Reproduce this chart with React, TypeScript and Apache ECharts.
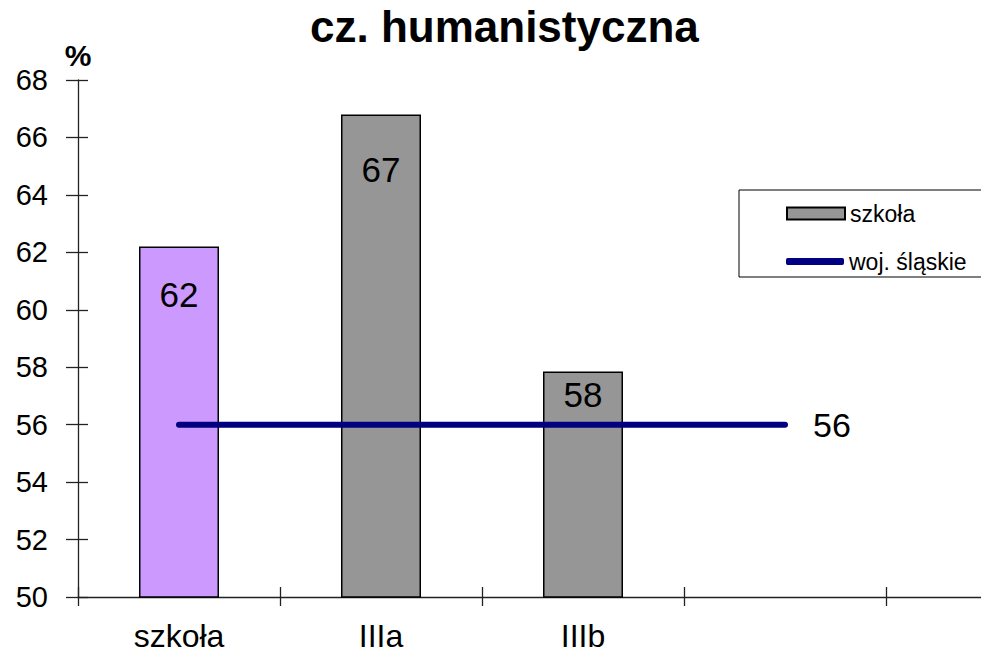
import React, { useEffect, useRef } from "react";
import * as echarts from "echarts";

const categories = ["szkoła", "IIIa", "IIIb", "", ""];
const schoolValues = [62.2, 66.8, 57.85];
const schoolLabels = ["62", "67", "58"];
const regionValues = [56, 56, 56, 56];
const regionLabel = "56";
const labelDistances = [30, 38, 5];
const yTicks = { min: 50, max: 68, interval: 2 };

const FONT = "'Liberation Sans', Arial, sans-serif";

export default function App() {
  const ref = useRef<HTMLDivElement>(null);
  useEffect(() => {
    if (!ref.current) return;
    const chart = echarts.init(ref.current, undefined, { renderer: "svg" });
    const barData = schoolValues.map((v, i) => ({
      value: v,
      itemStyle: i === 0 ? { color: "#CC99FF" } : undefined,
      label: {
        show: true,
        position: "insideTop",
        distance: labelDistances[i],
        formatter: () => schoolLabels[i],
        fontSize: 35,
        color: "#000",
        fontFamily: FONT,
      },
    }));
    const axisColor = "#222";
    chart.setOption({
      animation: false,
      textStyle: { fontFamily: FONT },
      title: {
        text: "cz. humanistyczna",
        left: 310,
        top: 4,
        padding: 0,
        textStyle: { fontSize: 44, fontWeight: "bold", color: "#000", fontFamily: FONT },
      },
      legend: [
        {
          orient: "vertical",
          left: 739,
          top: 190,
          padding: [12, 80, 52, 47],
          itemWidth: 58,
          itemHeight: 12,
          borderColor: "#000",
          borderWidth: 1,
          backgroundColor: "#fff",
          textStyle: { fontSize: 23, color: "#000", fontFamily: FONT },
          data: [{ name: "szkoła", icon: "rect" }],
          z: 4,
        },
        {
          orient: "vertical",
          left: 786,
          top: 250,
          padding: 0,
          itemWidth: 58,
          itemHeight: 7,
          textStyle: { fontSize: 23, color: "#000", fontFamily: FONT },
          data: [{ name: "woj. śląskie", icon: "roundRect", itemStyle: { color: "#000080" } }],
          z: 6,
        },
      ],
      grid: { left: 78, right: 2, top: 80, bottom: 50 },
      xAxis: [
        {
          type: "category",
          data: categories,
          boundaryGap: true,
          axisLine: { lineStyle: { color: axisColor, width: 1.3 } },
          axisTick: { show: true, length: 9, lineStyle: { color: axisColor, width: 1.3 } },
          axisLabel: { fontSize: 32, color: "#000", margin: 23, fontFamily: FONT },
          splitLine: { show: false },
        },
        {
          type: "category",
          data: categories,
          position: "bottom",
          boundaryGap: true,
          axisLine: { show: false },
          axisTick: { show: true, inside: true, length: 10, lineStyle: { color: axisColor, width: 1.3 } },
          axisLabel: { show: false },
          splitLine: { show: false },
        },
      ],
      yAxis: [
        {
          type: "value",
          min: yTicks.min,
          max: yTicks.max,
          interval: yTicks.interval,
          name: "%",
          nameLocation: "end",
          nameGap: 10,
          nameTextStyle: { fontSize: 30, fontWeight: "bold", color: "#000", fontFamily: FONT, align: "center" },
          axisLine: { show: true, lineStyle: { color: axisColor, width: 1.3 } },
          axisTick: { show: true, length: 12, lineStyle: { color: axisColor, width: 1.3 } },
          axisLabel: { fontSize: 29, color: "#000", margin: 30, fontFamily: FONT },
          splitLine: { show: false },
        },
        {
          type: "value",
          min: yTicks.min,
          max: yTicks.max,
          interval: yTicks.interval,
          position: "left",
          axisLine: { show: false },
          axisTick: { show: true, inside: true, length: 10, lineStyle: { color: axisColor, width: 1.3 } },
          axisLabel: { show: false },
          splitLine: { show: false },
        },
      ],
      series: [
        {
          name: "szkoła",
          type: "bar",
          barWidth: 80,
          data: barData,
          itemStyle: { color: "#969696", borderColor: "#000", borderWidth: 1.5 },
        },
        {
          name: "woj. śląskie",
          type: "line",
          data: regionValues,
          symbol: "none",
          showSymbol: false,
          lineStyle: { color: "#000080", width: 6, cap: "round" },
          itemStyle: { color: "#000080" },
          endLabel: {
            show: true,
            formatter: () => regionLabel,
            distance: 28,
            fontSize: 34,
            color: "#000",
            fontFamily: FONT,
          },
          z: 5,
        },
      ],
    });
    return () => chart.dispose();
  }, []);
  return (
    <div style={{ position: "fixed", left: 0, top: 0, width: 981, height: 652, overflow: "hidden", background: "#fff" }}>
      <div ref={ref} style={{ position: "absolute", left: 0, top: 0, width: 1090, height: 652 }} />
    </div>
  );
}
